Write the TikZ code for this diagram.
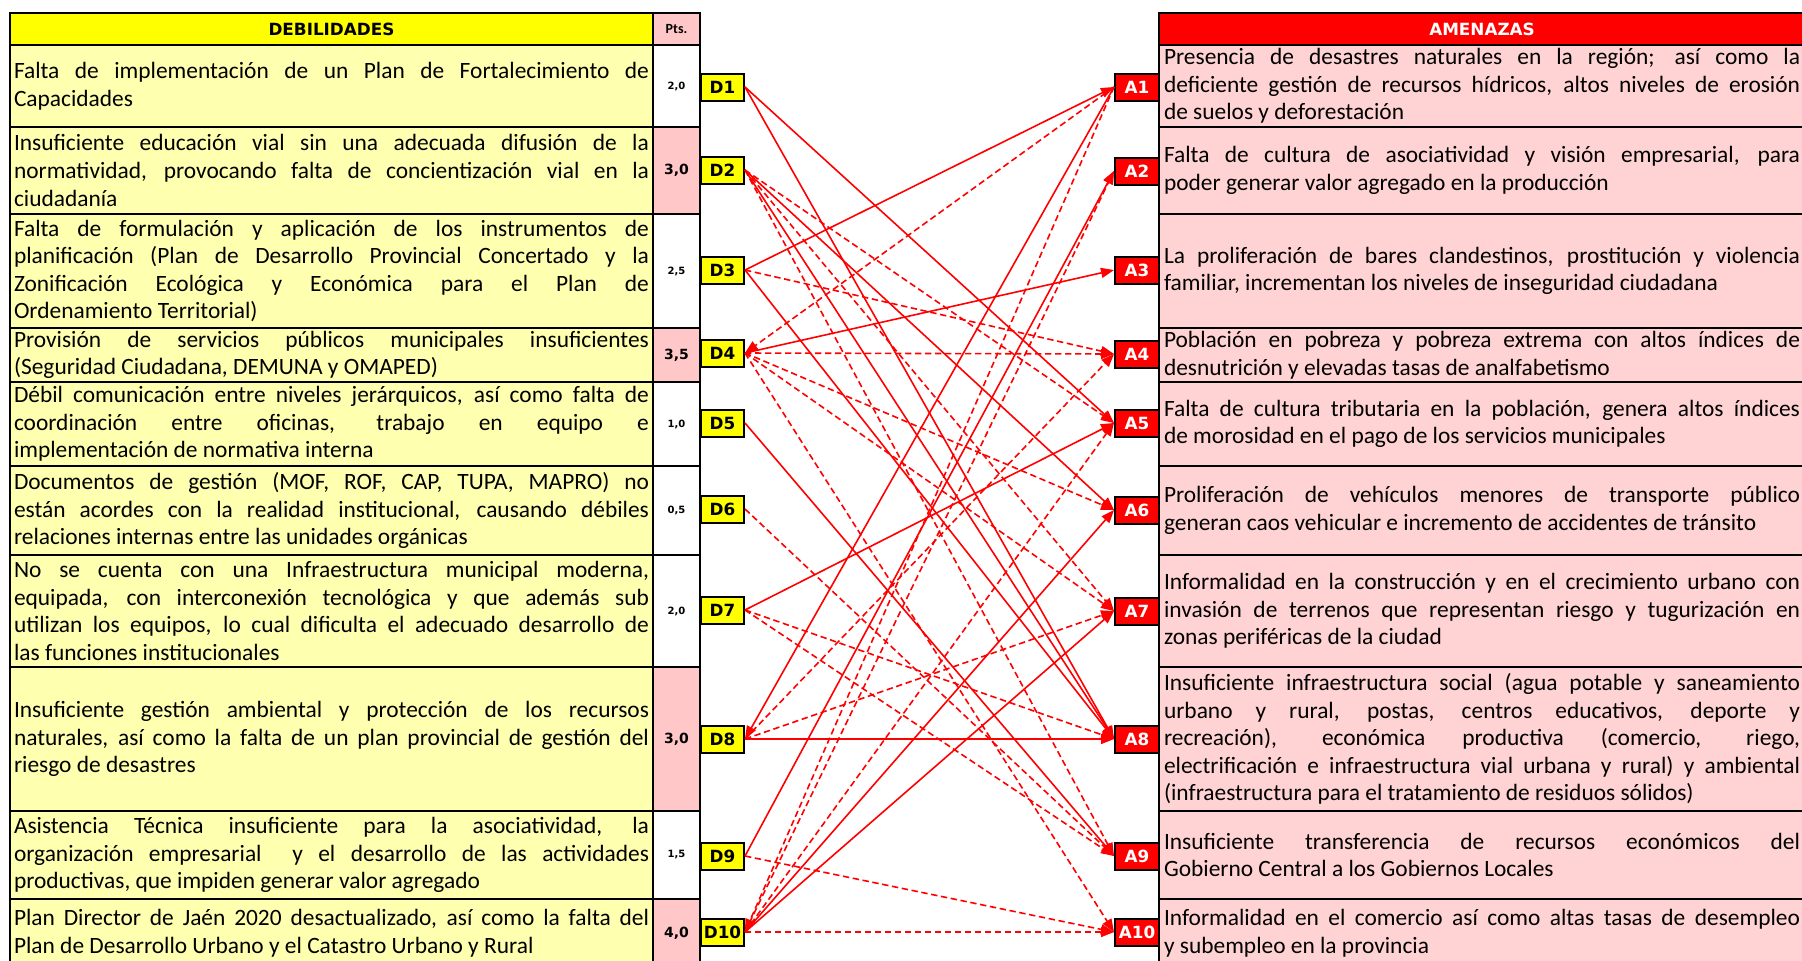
\documentclass[tikz,border=0pt]{standalone}
\usepackage{fontspec}
\setmainfont{Carlito}
\newfontfamily\blackfont{DejaVu Sans}
\usetikzlibrary{arrows.meta}
\definecolor{hdryellow}{HTML}{FFFF00}
\definecolor{cellyellow}{HTML}{FFFFB0}
\definecolor{ptspink}{HTML}{FFC7C7}
\definecolor{cellpink}{HTML}{FFD3D3}
\definecolor{linkred}{HTML}{FF0000}
\hbadness=10000
\hyphenpenalty=10000
\tolerance=10000

\begin{document}
\begin{tikzpicture}[x=0.5pt, y=-0.5pt,
    cell/.style={draw, line width=1pt, anchor=north west, inner xsep=2pt, inner ysep=0pt,
      font=\fontsize{11.7}{13.8}\selectfont},
    weakness/.style={cell, fill=cellyellow, text width=317.5pt, align=justify},
    threat/.style={cell, fill=cellpink, text width=318pt, inner xsep=2.5pt, align=justify},
    ptscell/.style={cell, minimum width=23.5pt, inner xsep=0pt, align=center},
    ptshigh/.style={ptscell, fill=ptspink, font=\blackfont\bfseries\fontsize{7}{8}\selectfont},
    ptslow/.style={ptscell, fill=white, font=\blackfont\bfseries\fontsize{5}{6}\selectfont},
    heading/.style={cell, minimum height=16pt, align=center,
      font=\blackfont\bfseries\fontsize{8.4}{9}\selectfont},
    dlabel/.style={draw, line width=1pt, fill=hdryellow, minimum width=21.5pt, minimum height=13.5pt,
      inner sep=0pt, font=\blackfont\bfseries\fontsize{8.4}{9}\selectfont},
    alabel/.style={dlabel, fill=linkred, text=white, minimum width=22pt},
    strongedge/.style={draw=linkred, line width=0.8pt, -{Triangle[length=6.5pt,width=5pt]}},
    dashededge/.style={strongedge, dash pattern=on 3.2pt off 1.8pt}]
  \useasboundingbox (0,0) rectangle (1802,960);

  % debilidades
  \node[heading, fill=hdryellow, minimum width=321.5pt] (dhead) at (9,12) {DEBILIDADES};
  \node[ptscell, fill=ptspink, minimum height=16pt, font=\bfseries\fontsize{7}{8}\selectfont] (phead) at (652,12) {Pts.};

  \node[weakness, minimum height=41pt] (dt1) at (9,44) {Falta de implementación de un Plan de Fortalecimiento de\linebreak Capacidades};
  \node[weakness, minimum height=43.5pt] (dt2) at (9,126) {Insuficiente educación vial sin una adecuada difusión de la\linebreak normatividad, provocando falta de concientización vial en la\linebreak ciudadanía};
  \node[weakness, minimum height=57pt] (dt3) at (9,213) {Falta de formulación y aplicación de los instrumentos de\linebreak planificación (Plan de Desarrollo Provincial Concertado y la\linebreak Zonificación Ecológica y Económica para el Plan de\linebreak Ordenamiento Territorial)};
  \node[weakness, minimum height=27pt] (dt4) at (9,327) {Provisión de servicios públicos municipales insuficientes\linebreak (Seguridad Ciudadana, DEMUNA y OMAPED)};
  \node[weakness, minimum height=42pt] (dt5) at (9,381) {Débil comunicación entre niveles jerárquicos, así como falta de\linebreak coordinación entre oficinas, trabajo en equipo e\linebreak implementación de normativa interna};
  \node[weakness, minimum height=44.5pt] (dt6) at (9,465) {Documentos de gestión (MOF, ROF, CAP, TUPA, MAPRO) no\linebreak están acordes con la realidad institucional, causando débiles\linebreak relaciones internas entre las unidades orgánicas};
  \node[weakness, minimum height=56pt] (dt7) at (9,554) {No se cuenta con una Infraestructura municipal moderna,\linebreak equipada, con interconexión tecnológica y que además sub\linebreak utilizan los equipos, lo cual dificulta el adecuado desarrollo de\linebreak las funciones institucionales};
  \node[weakness, minimum height=72pt] (dt8) at (9,666) {Insuficiente gestión ambiental y protección de los recursos\linebreak naturales, así como la falta de un plan provincial de gestión del\linebreak riesgo de desastres};
  \node[weakness, minimum height=44pt] (dt9) at (9,810) {Asistencia Técnica insuficiente para la asociatividad, la\linebreak organización empresarial\ \ y el desarrollo de las actividades\linebreak productivas, que impiden generar valor agregado};
  \node[weakness, minimum height=34pt] (dt10) at (9,898) {Plan Director de Jaén 2020 desactualizado, así como la falta del\linebreak Plan de Desarrollo Urbano y el Catastro Urbano y Rural};

  \node[ptslow, minimum height=41pt] (p1) at (652,44) {2,0};
  \node[ptshigh, minimum height=43.5pt] (p2) at (652,126) {3,0};
  \node[ptslow, minimum height=57pt] (p3) at (652,213) {2,5};
  \node[ptshigh, minimum height=27pt] (p4) at (652,327) {3,5};
  \node[ptslow, minimum height=42pt] (p5) at (652,381) {1,0};
  \node[ptslow, minimum height=44.5pt] (p6) at (652,465) {0,5};
  \node[ptslow, minimum height=56pt] (p7) at (652,554) {2,0};
  \node[ptshigh, minimum height=72pt] (p8) at (652,666) {3,0};
  \node[ptslow, minimum height=44pt] (p9) at (652,810) {1,5};
  \node[ptshigh, minimum height=34pt] (p10) at (652,898) {4,0};

  % amenazas
  \node[heading, fill=linkred, text=white, minimum width=323pt] (ahead) at (1158,12) {AMENAZAS};

  \node[threat, minimum height=41pt] (at1) at (1158,44) {Presencia de desastres naturales en la región; así como la\linebreak deficiente gestión de recursos hídricos, altos niveles de erosión\linebreak de suelos y deforestación};
  \node[threat, minimum height=43.5pt] (at2) at (1158,126) {Falta de cultura de asociatividad y visión empresarial, para\linebreak poder generar valor agregado en la producción};
  \node[threat, minimum height=57pt] (at3) at (1158,213) {La proliferación de bares clandestinos, prostitución y violencia\linebreak familiar, incrementan los niveles de inseguridad ciudadana};
  \node[threat, minimum height=27pt] (at4) at (1158,327) {Población en pobreza y pobreza extrema con altos índices de\linebreak desnutrición y elevadas tasas de analfabetismo};
  \node[threat, minimum height=42pt] (at5) at (1158,381) {Falta de cultura tributaria en la población, genera altos índices\linebreak de morosidad en el pago de los servicios municipales};
  \node[threat, minimum height=44.5pt] (at6) at (1158,465) {Proliferación de vehículos menores de transporte público\linebreak generan caos vehicular e incremento de accidentes de tránsito};
  \node[threat, minimum height=56pt] (at7) at (1158,554) {Informalidad en la construcción y en el crecimiento urbano con\linebreak invasión de terrenos que representan riesgo y tugurización en\linebreak zonas periféricas de la ciudad};
  \node[threat, minimum height=72pt] (at8) at (1158,666) {Insuficiente infraestructura social (agua potable y saneamiento\linebreak urbano y rural, postas, centros educativos, deporte y\linebreak recreación), económica productiva (comercio, riego,\linebreak electrificación e infraestructura vial urbana y rural) y ambiental\linebreak (infraestructura para el tratamiento de residuos sólidos)};
  \node[threat, minimum height=44pt] (at9) at (1158,810) {Insuficiente transferencia de recursos económicos del\linebreak Gobierno Central a los Gobiernos Locales};
  \node[threat, minimum height=34pt] (at10) at (1158,898) {Informalidad en el comercio así como altas tasas de desempleo\linebreak y subempleo en la provincia};

  % etiquetas
  \node[dlabel] (d1) at (722.5,87) {D1};
  \node[dlabel] (d2) at (722.5,170) {D2};
  \node[dlabel] (d3) at (722.5,270) {D3};
  \node[dlabel] (d4) at (722.5,353) {D4};
  \node[dlabel] (d5) at (722.5,423) {D5};
  \node[dlabel] (d6) at (722.5,509) {D6};
  \node[dlabel] (d7) at (722.5,610) {D7};
  \node[dlabel] (d8) at (722.5,739) {D8};
  \node[dlabel] (d9) at (722.5,856) {D9};
  \node[dlabel] (d10) at (722.5,932) {D10};

  \node[alabel] (a1) at (1137,87) {A1};
  \node[alabel] (a2) at (1137,171) {A2};
  \node[alabel] (a3) at (1137,270) {A3};
  \node[alabel] (a4) at (1137,354) {A4};
  \node[alabel] (a5) at (1137,423) {A5};
  \node[alabel] (a6) at (1137,510) {A6};
  \node[alabel] (a7) at (1137,611) {A7};
  \node[alabel] (a8) at (1137,739) {A8};
  \node[alabel] (a9) at (1137,856) {A9};
  \node[alabel] (a10) at (1137,932) {A10};

  % relaciones
  \draw[strongedge] (d1.east) -- (a5.west);
  \draw[strongedge] (d1.east) -- (a8.west);
  \draw[dashededge] (d2.east) -- (a5.west);
  \draw[strongedge] (d2.east) -- (a6.west);
  \draw[dashededge] (d2.east) -- (a7.west);
  \draw[strongedge] (d2.east) -- (a8.west);
  \draw[dashededge] (d2.east) -- (a9.west);
  \draw[strongedge] (d3.east) -- (a1.west);
  \draw[dashededge] (d3.east) -- (a4.west);
  \draw[strongedge] (d3.east) -- (a8.west);
  \draw[dashededge] (a1.west) -- (d4.east);
  \draw[strongedge] (d4.east) -- (a3.west);
  \draw[dashededge] (d4.east) -- (a4.west);
  \draw[dashededge] (d4.east) -- (a6.west);
  \draw[dashededge] (d4.east) -- (a7.west);
  \draw[dashededge] (d4.east) -- (a10.west);
  \draw[strongedge] (d5.east) -- (a9.west);
  \draw[dashededge] (d6.east) -- (a9.west);
  \draw[strongedge] (d7.east) -- (a5.west);
  \draw[dashededge] (d7.east) -- (a8.west);
  \draw[dashededge] (d7.east) -- (a9.west);
  \draw[strongedge] (a1.west) -- (d8.east);
  \draw[dashededge] (d8.east) -- (a4.west);
  \draw[dashededge] (d8.east) -- (a7.west);
  \draw[strongedge] (d8.east) -- (a8.west);
  \draw[strongedge] (d9.east) -- (a2.west);
  \draw[dashededge] (d9.east) -- (a10.west);
  \draw[dashededge] (a1.west) -- (d10.east);
  \draw[dashededge] (d10.east) -- (a2.west);
  \draw[dashededge] (d10.east) -- (a5.west);
  \draw[strongedge] (d10.east) -- (a6.west);
  \draw[strongedge] (d10.east) -- (a7.west);
  \draw[dashededge] (d10.east) -- (a10.west);
\end{tikzpicture}
\end{document}
